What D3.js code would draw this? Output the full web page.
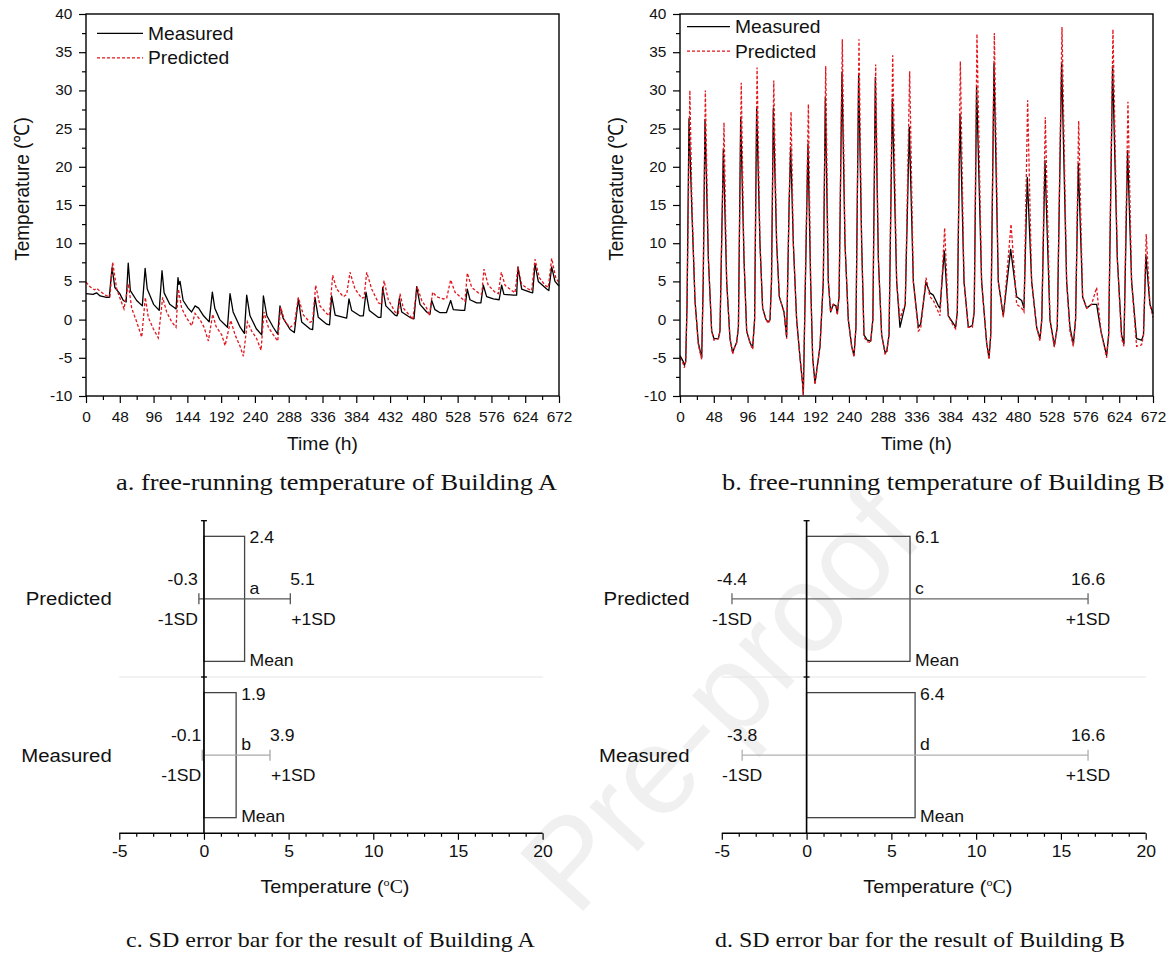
<!DOCTYPE html>
<html>
<head>
<meta charset="utf-8">
<script src="https://cdn.jsdelivr.net/npm/d3@7"></script>
<style>
  body { margin: 0; background: #fff; }
  svg { display: block; font-family: Arial, "Liberation Sans", sans-serif; }
</style>
</head>
<body>
<div id="chart"></div>
<script>
// hourly temperatures, [hour, value]
const A_MEASURED = [
  [0,3.4],[10,3.3],[15,3.5],[20,3.1],[29,2.9],[33,2.9],[37,6.8],[41,4.2],[48,3.4],[53,2.5],[57,2.3],[60,7.4],[63,3.8],[72,2.5],[80,1.8],[84,6.7],[87,4.0],[96,2.0],[104,1.2],[108,6.4],[111,3.5],[119,2.0],[128,1.4],[130.7,5.5],[132,4.6],[133.6,5.0],[138,2.5],[145,1.5],[150,1.0],[155,1.8],[160,1.5],[167,0.5],[175,-0.3],[179.5,3.6],[183,1.5],[190,0.0],[201,-1.0],[204.6,3.4],[209,1.0],[219,-1.0],[225,-1.8],[228.3,3.2],[233,0.5],[242,-1.2],[249.6,-2.0],[252,3.1],[257,0.5],[266,-1.0],[272.4,-1.9],[275.6,1.8],[280,0.2],[290,-1.3],[296,-1.7],[301.7,2.7],[306.4,-0.3],[318,-1.2],[322,-1.3],[325.3,2.9],[330,0.3],[342,-0.6],[346,-0.7],[349,3.1],[354,0.6],[366,0.3],[370.3,0.2],[373.6,2.7],[377.4,1.2],[389,0.5],[394,0.5],[397.8,3.6],[402.5,1.2],[415,0.3],[419,0.3],[421.5,4.2],[426,1.8],[439,0.6],[442,0.5],[445.2,2.8],[448.5,1.0],[460,0.3],[466,0.1],[469.8,4.3],[474.5,2.0],[484,1.0],[488.7,0.7],[491.1,2.5],[495.8,1.3],[503,0.9],[512,0.9],[518.1,2.5],[521.8,1.3],[533.7,1.2],[538,1.2],[541.7,4.0],[545.5,2.6],[555,2.2],[561,2.2],[564.5,4.5],[569.2,3.0],[578.7,2.7],[587,2.6],[590.5,4.5],[593.8,3.3],[607,3.2],[611.8,3.2],[613.7,6.9],[619,4.0],[630.8,3.6],[634.6,3.5],[637.9,7.3],[642.6,5.0],[654.5,4.0],[657.5,3.8],[661.6,6.9],[666.3,5.0],[672,4.4]
];
const A_PREDICTED = [
  [0,4.9],[5.7,4.3],[12,3.9],[15.2,4.1],[19.9,3.7],[29.4,3.1],[34,3.0],[37.9,7.5],[43.6,4.0],[50.7,2.2],[54,1.4],[60.1,4.7],[64.9,1.5],[72,-0.3],[79.1,-2.3],[84.3,2.9],[88.5,0.3],[95.6,-1.2],[102.7,-2.4],[108.9,2.9],[114.6,1.0],[121.7,-0.3],[127.9,-1.0],[131.2,4.0],[135.9,1.5],[143,0.2],[150.2,-0.8],[154.9,0.8],[162,0.0],[167.7,-1.0],[173.9,-2.8],[180,0.7],[184.8,-0.9],[192.8,-2.0],[197.6,-3.4],[205.6,-0.1],[211.8,-2.0],[218.9,-3.5],[223.6,-4.8],[229.3,-0.3],[235.4,-1.5],[242.5,-2.5],[248.7,-4.0],[252.9,1.0],[259.1,-1.0],[266.2,-2.0],[272.4,-2.8],[276.6,1.6],[282.8,-0.3],[290,-1.0],[296,-0.6],[301.7,2.9],[308.8,0.6],[318.2,-0.35],[322,-0.2],[326.3,4.5],[332.4,1.8],[341.9,0.8],[345.7,0.5],[350.4,5.8],[356.1,4.0],[365.6,3.0],[370.3,3.3],[375.1,6.2],[382.2,4.0],[391.7,2.8],[395,2.9],[398.8,6.2],[405.9,4.0],[415.3,2.2],[420.1,2.0],[423.4,5.1],[429.5,2.6],[439,1.0],[443.7,0.8],[446.1,3.4],[450.8,1.5],[460.3,0.5],[464.1,0.0],[470.7,4.3],[476.9,2.5],[484,1.5],[487.8,0.5],[492.5,3.6],[498.2,3.0],[507.7,2.7],[512.4,2.8],[518.1,5.2],[524.2,3.6],[533.7,2.8],[538.4,2.4],[541.7,6.1],[548,4.2],[557.4,3.5],[562.2,3.3],[565.4,6.6],[571.5,4.5],[581,3.6],[585.8,3.4],[590,6.2],[595.3,4.5],[604.8,3.8],[609.5,3.5],[613.7,6.9],[619,4.6],[628.4,4.0],[633.2,3.8],[637.9,7.9],[644,5.5],[652.1,4.5],[656.8,4.2],[661.6,8.0],[667.3,5.5],[672,4.8]
];
const B_MEASURED = [
  [0,-4.7],[4.7,-5.5],[6.2,-6.0],[8.1,-5.5],[10,2],[12.8,26.3],[16.6,15],[21.3,2.5],[26,-3.0],[30.8,-5.0],[33,5],[35.5,26.2],[40.3,8],[45,-1.5],[48.3,-2.5],[54.5,-2.5],[56.8,-1.5],[61.6,22.3],[66.3,5],[71,-2.5],[74.8,-4.3],[78.1,-3.5],[80.5,-3.0],[83,-1],[86.2,26.5],[90.9,8],[94.7,-1.5],[99.4,-3.0],[103.2,-3.7],[106,0],[108.9,27.8],[113.6,10],[117.4,1.5],[122.2,0],[125.5,-0.3],[127.9,0],[130,5],[132.6,27.6],[137.3,10],[141.1,3],[144.4,2],[147.8,1],[151.5,-2.3],[155,15],[157.2,22.6],[161,10],[165.7,0],[170.5,-5],[174.3,-8.5],[175.2,-9.8],[181.8,23.0],[185.6,5],[188.5,-5],[191.8,-8.3],[198.9,-3.5],[203.6,5],[206.5,29.1],[210.7,5],[214,1.0],[217.8,2.0],[221.6,1.8],[223.5,0.8],[226,3],[230.1,32.4],[234.4,10],[239.1,0],[243.9,-3.5],[247.2,-4.7],[250,-1],[253.8,32.1],[258.1,10],[261.4,-2],[266.2,-2.7],[270.9,-2.8],[274,0],[277.5,31.7],[281.8,8],[286.5,-2],[291.3,-4.3],[293.6,-4.2],[297,-2],[301.7,28.9],[307.8,5],[312.5,-1.0],[316.3,0.5],[320,2],[325.8,25.2],[331.5,5],[338.6,-1],[341.9,-0.6],[349.5,4.9],[355.1,3.5],[359.9,3.2],[367,1.8],[369.4,1.5],[375.5,9.0],[381.2,0.5],[388.3,-0.5],[391.6,-1.0],[394,1],[397.8,26.9],[403.5,5],[409.6,-1],[415.3,-0.8],[418,1],[421.4,30.5],[428.5,5],[435.6,-3],[439,-5.0],[441.5,-2],[446.1,33.5],[452.2,5],[459.3,0.5],[469.8,9.2],[478.3,3],[485.4,2.5],[488.7,1.5],[493.4,18.6],[499.6,5],[506.7,-1.0],[511.4,-2.5],[514,0],[518.5,20.8],[525.6,0],[531.8,-3.4],[536,-1],[542.2,33.7],[549.3,5],[554,-1],[558.8,-3.2],[562,0],[565.9,20.4],[572,3],[577.7,1.5],[584.8,2.0],[591.9,2.0],[598,-1.5],[606.1,-4.7],[609,-2],[614.6,33.2],[621.3,8],[627.4,-2],[630.7,-3.2],[635.9,22.1],[641.6,5],[648.7,-2.5],[655.8,-2.7],[658.5,-2],[661.9,8.4],[667.6,2],[672,0.8]
];
const B_PREDICTED = [
  [0,-5.0],[4.7,-5.8],[6.2,-6.3],[8.1,-5.5],[10,2],[14,30.0],[17,15],[21.3,2.5],[26,-3.3],[30.8,-5.2],[33,5],[36,30.0],[40.3,8],[45,-1.5],[48.3,-2.7],[54.5,-2.5],[56.8,-1.5],[62.5,25.8],[66.3,5],[71,-2.5],[74.8,-4.5],[78.1,-3.5],[80.5,-3.0],[83,-1],[87,31.0],[90.9,8],[94.7,-1.5],[99.4,-3.0],[103.2,-3.9],[106,0],[109.5,33.0],[113.6,10],[117.4,1.5],[122.2,0],[125.5,-0.5],[127.9,0],[130,5],[133.2,31.3],[137.3,10],[141.1,3],[144.4,2],[147.8,1],[151.5,-2.5],[155,15],[157.8,27.2],[161,10],[165.7,0],[170.5,-5],[174.3,-8.5],[175.2,-9.9],[182.4,28.2],[185.6,5],[188.5,-5],[191.8,-8.5],[198.9,-3.5],[203.6,5],[207,33.2],[210.7,5],[214,1.0],[217.8,2.0],[221.6,1.8],[223.5,0.6],[226,3],[230.6,36.7],[234.4,10],[239.1,0],[243.9,-3.5],[247.2,-4.9],[250,-1],[254.3,36.7],[258.1,10],[261.4,-2.3],[266.2,-2.9],[270.9,-3.0],[274,0],[278,33.4],[281.8,8],[286.5,-2],[291.3,-4.5],[293.6,-4.4],[297,-2],[302.2,34.6],[307.8,5],[312.5,0],[316.3,1.2],[320,2],[326.3,32.5],[331.5,5],[338.6,-1.5],[341.9,-1.2],[349.5,5.5],[355.1,3.0],[359.9,2.5],[367,1.0],[369.4,0.5],[376,12.0],[381.2,0.5],[388.3,-0.8],[391.6,-1.2],[394,1],[398.3,33.8],[403.5,5],[409.6,-1],[415.3,-1.0],[418,1],[421.9,37.4],[428.5,5],[435.6,-3],[439,-5.2],[441.5,-2],[446.6,37.5],[452.2,5],[459.3,0.3],[470.3,12.5],[478.3,2],[485.4,1.5],[488.7,1.0],[493.9,28.7],[499.6,5],[506.7,-1.0],[511.4,-2.8],[514,0],[519,26.5],[525.6,0],[531.8,-3.6],[536,-1],[542.7,38.3],[549.3,5],[554,-1.5],[558.8,-3.5],[562,0],[566.4,26.0],[572,3],[577.7,1.5],[584.8,2.0],[591.9,4.2],[598,-1.5],[606.1,-5.0],[609,-2],[615.1,38.0],[621.3,8],[627.4,-2.5],[630.7,-3.5],[636.4,28.5],[641.6,5],[648.7,-3.5],[655.8,-3.3],[658.5,-2],[662.4,11.2],[667.6,2],[672,0.3]
];

const HOUR_TICKS = [0, 48, 96, 144, 192, 240, 288, 336, 384, 432, 480, 528, 576, 624, 672];
const TEMP_TICKS = [-10, -5, 0, 5, 10, 15, 20, 25, 30, 35, 40];

// SD error bars
const SD_GROUPS = ["Predicted", "Measured"];
const A_MEAN = [2.4, 1.9];
const A_LOW = [-0.3, -0.1];
const A_HIGH = [5.1, 3.9];
const A_TAGS = ["a", "b"];
const B_MEAN = [6.1, 6.4];
const B_LOW = [-4.4, -3.8];
const B_HIGH = [16.6, 16.6];
const B_TAGS = ["c", "d"];
const SD_TICKS = [-5, 0, 5, 10, 15, 20];

const WIDTH = 1172;
const HEIGHT = 953;
const SX = 1.1; // text in the reference is a bit wider than tall
const RED = "#e3161d";
const SERIF = "'Liberation Serif', 'Times New Roman', serif";

const svg = d3.select("#chart").append("svg").attr("width", WIDTH).attr("height", HEIGHT);

// faint watermark behind everything
svg.append("text")
  .attr("transform", "translate(926,538) rotate(-47.4)")
  .attr("text-anchor", "end")
  .style("font-size", "124px")
  .attr("fill", "#f0f0f0")
  .text("Pre-proof");

const label = (g, x, y, str, size, anchor = "start") =>
  g.append("text")
    .attr("transform", `translate(${x},${y}) scale(${SX},1)`)
    .attr("text-anchor", anchor)
    .style("font-size", `${size}px`)
    .attr("fill", "#111")
    .text(str);

const stretchTicks = (sel, size) => {
  sel.select(".domain").remove();
  sel.selectAll(".tick line").attr("stroke", "#000").attr("stroke-width", 1.2);
  sel.selectAll(".tick text")
    .attr("transform", `scale(${SX},1)`)
    .style("font-size", `${size}px`)
    .style("font-family", "Arial, 'Liberation Sans', sans-serif")
    .attr("fill", "#111");
};

const timeChart = (box, measured, predicted, legend, caption) => {
  const g = svg.append("g");
  const x = d3.scaleLinear().domain([0, 672]).range([box.left, box.right]);
  const y = d3.scaleLinear().domain([-10, 40]).range([box.bottom, box.top]);

  const minorX = HOUR_TICKS.slice(1).map((d) => d - 24);
  const minorY = TEMP_TICKS.slice(1).map((d) => d - 2.5);

  g.append("g")
    .attr("transform", `translate(0,${box.bottom})`)
    .call(d3.axisBottom(x).tickValues(minorX).tickSize(4).tickFormat(""))
    .call((s) => stretchTicks(s, 14));
  g.append("g")
    .attr("transform", `translate(0,${box.bottom})`)
    .call(d3.axisBottom(x).tickValues(HOUR_TICKS).tickSize(7).tickPadding(9).tickFormat((d) => String(d)))
    .call((s) => stretchTicks(s, 14));
  g.append("g")
    .attr("transform", `translate(${box.left},0)`)
    .call(d3.axisLeft(y).tickValues(minorY).tickSize(4).tickFormat(""))
    .call((s) => stretchTicks(s, 14));
  g.append("g")
    .attr("transform", `translate(${box.left},0)`)
    .call(d3.axisLeft(y).tickValues(TEMP_TICKS).tickSize(7).tickPadding(5.5).tickFormat((d) => String(d)))
    .call((s) => stretchTicks(s, 14));

  const line = d3.line().x((d) => x(d[0])).y((d) => y(d[1]));

  g.append("path")
    .datum(measured)
    .attr("d", line)
    .attr("fill", "none")
    .attr("stroke", "#000")
    .attr("stroke-width", 1.3)
    .attr("stroke-linejoin", "round");

  g.append("path")
    .datum(predicted)
    .attr("d", line)
    .attr("fill", "none")
    .attr("stroke", RED)
    .attr("stroke-width", 1.3)
    .attr("stroke-dasharray", "3,2");

  g.append("rect")
    .attr("x", box.left)
    .attr("y", box.top)
    .attr("width", box.right - box.left)
    .attr("height", box.bottom - box.top)
    .attr("fill", "none")
    .attr("stroke", "#000")
    .attr("stroke-width", 1.4);

  // legend
  [["Measured", "#000", null], ["Predicted", RED, "3,2"]].forEach(([name, color, dash], i) => {
    const ly = legend.y + i * 24.5;
    g.append("line")
      .attr("x1", box.left + legend.x0)
      .attr("x2", box.left + legend.x1)
      .attr("y1", ly)
      .attr("y2", ly)
      .attr("stroke", color)
      .attr("stroke-width", 1.3)
      .attr("stroke-dasharray", dash);
    label(g, box.left + legend.x1 + 5, ly + 6.3, name, 17.5);
  });

  // axis titles
  const yt = g.append("text")
    .attr("transform", `translate(${box.left - 57},189) rotate(-90) scale(1,${SX})`)
    .attr("text-anchor", "middle")
    .style("font-size", "19px")
    .attr("fill", "#111");
  yt.append("tspan").text("Temperature (");
  yt.append("tspan").style("font-family", SERIF).text("\u2103");
  yt.append("tspan").text(")");

  label(g, (box.left + box.right) / 2, 450, "Time (h)", 17.5, "middle");

  g.append("text")
    .attr("transform", `translate(${caption.x},490) scale(${SX},1)`)
    .style("font-family", SERIF)
    .style("font-size", "24px")
    .attr("fill", "#111")
    .text(caption.text);
};

const sdChart = (box, mean, low, high, tags, opt) => {
  const g = svg.append("g");
  const x = d3.scaleLinear().domain([-5, 20]).range([box.left, box.right]);
  const y = d3.scaleBand()
    .domain(SD_GROUPS)
    .range([box.top, box.bottom])
    .paddingInner(0.2)
    .paddingOuter(0.1);
  const rows = SD_GROUPS.map((name, i) => ({
    name, mean: mean[i], low: low[i], high: high[i], tag: tags[i], i,
  }));
  const gap = (y.step() - y.bandwidth()) / 2;
  const sepY = y(SD_GROUPS[1]) - gap;

  g.append("line")
    .attr("x1", x(-5)).attr("x2", x(20))
    .attr("y1", sepY).attr("y2", sepY)
    .attr("stroke", "#e4e4e4")
    .attr("stroke-width", 1);

  const row = g.selectAll("g.row").data(rows).join("g").attr("class", "row");

  row.append("rect")
    .attr("x", x(0))
    .attr("y", (d) => y(d.name))
    .attr("width", (d) => x(d.mean) - x(0))
    .attr("height", y.bandwidth())
    .attr("fill", "none")
    .attr("stroke", "#444")
    .attr("stroke-width", 1.3);

  const mid = (d) => y(d.name) + y.bandwidth() / 2;
  const whisk = (d) => (d.i === 0 ? opt.predColor : opt.measColor);

  row.append("line")
    .attr("x1", (d) => x(d.low))
    .attr("x2", (d) => x(d.high))
    .attr("y1", mid)
    .attr("y2", mid)
    .attr("stroke", whisk)
    .attr("stroke-width", 1.3);
  row.selectAll("line.cap")
    .data((d) => [{ v: d.low, d }, { v: d.high, d }])
    .join("line")
    .attr("class", "cap")
    .attr("x1", (c) => x(c.v))
    .attr("x2", (c) => x(c.v))
    .attr("y1", (c) => mid(c.d) - 5.5)
    .attr("y2", (c) => mid(c.d) + 5.5)
    .attr("stroke", (c) => whisk(c.d))
    .attr("stroke-width", 1.3);

  // vertical zero line with small marks at group edges
  g.append("line")
    .attr("x1", x(0)).attr("x2", x(0))
    .attr("y1", box.top).attr("y2", box.bottom)
    .attr("stroke", "#000")
    .attr("stroke-width", 1.6);
  [box.top, sepY].forEach((ty) => {
    g.append("line")
      .attr("x1", x(0) - 3).attr("x2", x(0) + 3)
      .attr("y1", ty).attr("y2", ty)
      .attr("stroke", "#000")
      .attr("stroke-width", 1.3);
  });

  // x axis
  const minor = d3.range(-5, 21).filter((v) => v % 5 !== 0);
  g.append("g")
    .attr("transform", `translate(0,${box.bottom})`)
    .call(d3.axisBottom(x).tickValues(minor).tickSize(3.5).tickFormat(""))
    .call((s) => stretchTicks(s, 16));
  g.append("g")
    .attr("transform", `translate(0,${box.bottom})`)
    .call(d3.axisBottom(x).tickValues(SD_TICKS).tickSize(6.5).tickPadding(6).tickFormat((d) => String(d)))
    .call((s) => stretchTicks(s, 16));
  g.append("line")
    .attr("x1", x(-5)).attr("x2", x(20))
    .attr("y1", box.bottom).attr("y2", box.bottom)
    .attr("stroke", "#000")
    .attr("stroke-width", 1.6);

  // labels
  rows.forEach((d) => {
    const top = y(d.name);
    const c = mid(d);
    const bottom = top + y.bandwidth();
    label(g, opt.nameX, c + 6.5, d.name, 18.5, "end");
    label(g, x(d.mean) + 5, top + 7, d.mean.toFixed(1), 16);
    label(g, x(d.mean) + 5, bottom + 4.5, "Mean", 16);
    label(g, x(d.mean) + 5, c - 5, d.tag, 16);
    if (opt.centered) {
      label(g, x(d.low), c - 14, d.low.toFixed(1), 16, "middle");
      label(g, x(d.low), c + 26, "-1SD", 16, "middle");
      label(g, x(d.high), c - 14, d.high.toFixed(1), 16, "middle");
      label(g, x(d.high), c + 26, "+1SD", 16, "middle");
    } else {
      label(g, x(d.low) - 1, c - 14, d.low.toFixed(1), 16, "end");
      label(g, x(d.low) - 1, c + 26, "-1SD", 16, "end");
      label(g, x(d.high), c - 14, d.high.toFixed(1), 16);
      label(g, x(d.high) + 1, c + 26, "+1SD", 16);
    }
  });

  const title = g.append("text")
    .attr("transform", `translate(${(box.left + box.right) / 2 + 4},893) scale(${SX},1)`)
    .attr("text-anchor", "middle")
    .style("font-size", "18px")
    .attr("fill", "#111");
  title.append("tspan").text("Temperature (");
  title.append("tspan").attr("dy", -7).style("font-size", "11px").style("font-family", SERIF).text("o");
  title.append("tspan").attr("dy", 7).style("font-family", SERIF).text("C");
  title.append("tspan").text(")");

  g.append("text")
    .attr("transform", `translate(${opt.captionX},946.5) scale(${SX},1)`)
    .style("font-family", SERIF)
    .style("font-size", "21.8px")
    .attr("fill", "#111")
    .text(opt.caption);
};

timeChart(
  { left: 86, right: 559, top: 14, bottom: 396 },
  A_MEASURED, A_PREDICTED,
  { x0: 11, x1: 57, y: 33.3 },
  { x: 116, text: "a. free-running temperature of Building A" }
);
timeChart(
  { left: 680, right: 1153, top: 14, bottom: 396 },
  B_MEASURED, B_PREDICTED,
  { x0: 7, x1: 50, y: 26.7 },
  { x: 722, text: "b. free-running temperature of Building B" }
);

sdChart(
  { left: 119.3, right: 542.6, top: 520.7, bottom: 833.3 },
  A_MEAN, A_LOW, A_HIGH, A_TAGS,
  { nameX: 111.7, centered: false, predColor: "#555", measColor: "#a8a8a8",
    captionX: 126, caption: "c. SD error bar for the result of Building A" }
);
sdChart(
  { left: 721.8, right: 1145.7, top: 520.7, bottom: 833.3 },
  B_MEAN, B_LOW, B_HIGH, B_TAGS,
  { nameX: 689.5, centered: true, predColor: "#666", measColor: "#b0b0b0",
    captionX: 715, caption: "d. SD error bar for the result of Building B" }
);
</script>
</body>
</html>
